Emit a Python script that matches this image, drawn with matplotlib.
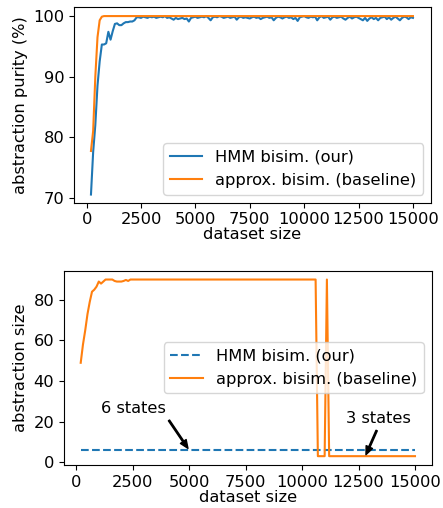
import numpy as np
import matplotlib
matplotlib.use("Agg")
import matplotlib.pyplot as plt

OUT = "out.png"

# dataset sizes (grid of 100 from 200 to 15000)
sizes = np.arange(200, 15001, 100)

# top: abstraction purity (%)
purity_hmm = [
    70.5, 77.5, 82.0, 88.5, 92.5, 95.3, 95.3, 95.5, 97.4, 96.1, 97.5, 98.7,
    98.8, 98.5, 98.5, 98.8, 99.0, 99.0, 99.1, 99.1, 99.3, 99.8,
    99.8, 99.7, 99.9, 99.8, 99.7, 99.9, 99.8, 99.9, 99.7, 99.8,
    99.9, 99.8, 100.0, 99.7, 99.8, 99.6, 99.4, 99.7, 99.5, 99.6,
    99.7, 99.5, 99.6, 99.1, 99.7, 99.8, 99.9, 99.7, 99.8, 99.9,
    99.8, 100.0, 99.7, 99.3, 99.8, 99.9, 99.8, 100.0, 99.9, 99.7,
    99.8, 99.9, 99.7, 99.8, 99.9, 99.4, 99.8, 99.9, 99.7, 99.8,
    99.7, 99.6, 99.8, 99.9, 99.7, 99.8, 99.5, 99.7, 99.8, 99.9,
    99.7, 99.8, 99.3, 99.7, 99.9, 99.8, 99.6, 99.8, 99.9, 99.7,
    99.8, 99.5, 99.7, 99.2, 99.8, 99.9, 100.0, 99.8, 99.7, 99.9,
    99.8, 99.9, 99.3, 99.8, 100.0, 99.7, 99.8, 99.9, 99.4, 99.8,
    99.9, 99.7, 99.8, 99.9, 99.6, 99.4, 99.7, 99.9, 99.6, 99.8,
    99.9, 99.7, 99.5, 99.3, 99.7, 99.2, 99.6, 99.8, 99.5, 99.7,
    99.3, 99.7, 99.8, 99.9, 99.5, 99.8, 99.4, 99.7, 99.9, 99.6,
    99.3, 99.7, 99.9, 99.8, 99.5, 99.8, 99.7,
]
purity_approx = [77.7, 81.0, 90.0, 96.5, 99.3, 99.9, 100.0] + [100.0] * 142

# bottom: abstraction size (number of states)
size_hmm = [6] * 149
size_approx = ([49, 58, 65, 73, 79, 84, 85, 86.5, 89, 88, 89, 90,
                90, 90, 90, 89.3, 89, 89, 89, 89.3, 89.8, 89.3, 90, 90]
               + [90] * 81 + [3] * 4 + [90] + [3] * 39)

LABELS = ["HMM bisim. (our)", "approx. bisim. (baseline)"]
BLUE, ORANGE = "#1f77b4", "#ff7f0e"
FS = 11.7

fig = plt.figure(figsize=(4.43, 5.08), dpi=100)

# ---- top panel ----
ax1 = fig.add_axes([74 / 443, 1 - 202.7 / 508, 357 / 443, 195.4 / 508])
ax1.plot(sizes, purity_hmm, color=BLUE, lw=1.5, label=LABELS[0])
ax1.plot(sizes, purity_approx, color=ORANGE, lw=1.5, label=LABELS[1])
ax1.set_xlim(-580, 15830)
ax1.set_ylim(69.15, 101.45)
ax1.set_yticks([70, 80, 90, 100])
ax1.set_xticks(np.arange(0, 15001, 2500))
ax1.set_xlabel("dataset size", fontsize=FS, labelpad=0)
ax1.set_ylabel("abstraction purity (%)", fontsize=FS)
ax1.tick_params(labelsize=FS)
ax1.legend(loc="lower right", fontsize=FS)

# ---- bottom panel ----
ax2 = fig.add_axes([64 / 443, 1 - 465 / 508, 367.7 / 443, 194.3 / 508])
ax2.plot(sizes, size_hmm, "--", color=BLUE, lw=1.5, label=LABELS[0])
ax2.plot(sizes, size_approx, color=ORANGE, lw=1.5, label=LABELS[1])
ax2.set_yticks([0, 20, 40, 60, 80])
ax2.set_xticks(np.arange(0, 15001, 2500))
ax2.set_xlabel("dataset size", fontsize=FS, labelpad=0)
ax2.set_ylabel("abstraction size", fontsize=FS)
ax2.tick_params(labelsize=FS)
ax2.legend(loc="center right", fontsize=FS)

arrow = dict(facecolor="black", edgecolor="black", shrink=0.05,
             width=1, headwidth=5, headlength=6)
ax2.annotate("6 states", xy=(5000, 6), xytext=(1100, 24.3),
             fontsize=FS, arrowprops=arrow)
ax2.annotate("3 states", xy=(12800, 3), xytext=(11950, 19.2),
             fontsize=FS, arrowprops=arrow)

fig.savefig(OUT, dpi=100)
